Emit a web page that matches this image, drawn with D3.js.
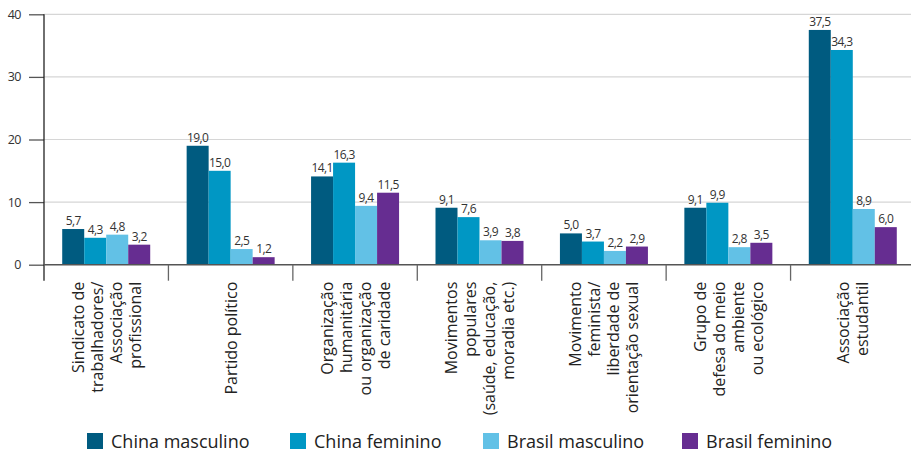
<!DOCTYPE html>
<html>
<head>
<meta charset="utf-8">
<script src="https://cdn.jsdelivr.net/npm/d3@7"></script>
<style>
  body { margin: 0; background: #fff; }
  svg { display: block; font-family: "Open Sans", "Noto Sans", sans-serif; }
</style>
</head>
<body>
<svg id="chart" width="911" height="452"></svg>
<script>
// categories (lines of each rotated label)
var categories = [
  ["Sindicato de", "trabalhadores/", "Associação", "profissional"],
  ["Partido político"],
  ["Organização", "humanitária", "ou organização", "de caridade"],
  ["Movimentos", "populares", "(saúde, educação,", "moradia etc.)"],
  ["Movimento", "feminista/", "liberdade de", "orientação sexual"],
  ["Grupo de", "defesa do meio", "ambiente", "ou ecológico"],
  ["Associação", "estudantil"]
];
var seriesNames = ["China masculino", "China feminino", "Brasil masculino", "Brasil feminino"];
var chinaMasc = [5.7, 19.0, 14.1, 9.1, 5.0, 9.1, 37.5];
var chinaFem = [4.3, 15.0, 16.3, 7.6, 3.7, 9.9, 34.3];
var brasilMasc = [4.8, 2.5, 9.4, 3.9, 2.2, 2.8, 8.9];
var brasilFem = [3.2, 1.2, 11.5, 3.8, 2.9, 3.5, 6.0];
var yTicks = [0, 10, 20, 30, 40];
var colors = ["#005b80", "#0097c4", "#62c1e6", "#662d91"];

var allSeries = [chinaMasc, chinaFem, brasilMasc, brasilFem];

var svg = d3.select("#chart");
var plotL = 44, plotR = 915, plotT = 14.3, plotB = 264.7;

var x0 = d3.scaleBand().domain(d3.range(categories.length)).range([plotL, plotR]);
var groupW = 88;
var x1 = d3.scaleBand().domain(d3.range(seriesNames.length)).range([0, groupW]);
var y = d3.scaleLinear().domain([0, 40]).range([plotB, plotT]);

// gridlines
svg.append("g").selectAll("line").data(yTicks.filter(function(d){ return d > 0; }))
  .enter().append("line")
  .attr("x1", plotL).attr("x2", 911)
  .attr("y1", function(d){ return y(d); }).attr("y2", function(d){ return y(d); })
  .attr("stroke", "#d6d6d6").attr("stroke-width", 1.2);

// y axis
var yAxis = d3.axisLeft(y).tickValues(yTicks).tickSize(15).tickPadding(8);
var gy = svg.append("g").attr("transform", "translate(" + plotL + ",0)").call(yAxis);
gy.select(".domain").remove();
gy.selectAll(".tick line").attr("stroke", "#555").attr("stroke-width", 1.3);
gy.selectAll(".tick text").attr("font-size", 12.5).attr("fill", "#333")
  .attr("font-family", "'Open Sans', sans-serif").attr("letter-spacing", "-0.5");
svg.append("line").attr("x1", plotL).attr("x2", plotL).attr("y1", plotT).attr("y2", plotB + 16)
  .attr("stroke", "#222").attr("stroke-width", 1.3);

// bars
var groups = svg.append("g").selectAll("g").data(categories).enter().append("g")
  .attr("transform", function(d, i){ return "translate(" + (x0(i) + (x0.bandwidth() - groupW) / 2) + ",0)"; });

var fmt = function(v){ return d3.format(".1f")(v).replace(".", ","); };

groups.each(function(c, i) {
  var g = d3.select(this);
  allSeries.forEach(function(s, k) {
    g.append("rect")
      .attr("x", x1(k)).attr("width", x1.bandwidth())
      .attr("y", y(s[i])).attr("height", plotB - y(s[i]))
      .attr("fill", colors[k]);
    g.append("text")
      .attr("x", x1(k) + x1.bandwidth() / 2)
      .attr("y", y(s[i]) - 4)
      .attr("text-anchor", "middle")
      .attr("font-size", 12).attr("letter-spacing", "-0.6")
      .attr("fill", "#333")
      .text(fmt(s[i]));
  });
});

// x axis line and separators
svg.append("line").attr("x1", plotL).attr("x2", 911).attr("y1", plotB).attr("y2", plotB)
  .attr("stroke", "#555").attr("stroke-width", 1.5);
svg.append("g").selectAll("line").data(d3.range(1, categories.length + 1)).enter().append("line")
  .attr("x1", function(d){ return x0(d - 1) + x0.bandwidth(); })
  .attr("x2", function(d){ return x0(d - 1) + x0.bandwidth(); })
  .attr("y1", plotB).attr("y2", plotB + 16)
  .attr("stroke", "#666").attr("stroke-width", 1.3);

// category labels, rotated
var lineH = 19;
categories.forEach(function(lines, i) {
  var cx = x0(i) + x0.bandwidth() / 2;
  var n = lines.length;
  var t = svg.append("text")
    .attr("transform", "translate(" + cx + "," + (plotB + 17) + ") rotate(-90)")
    .attr("text-anchor", "end")
    .attr("font-size", 16).attr("fill", "#222");
  lines.forEach(function(l, j) {
    t.append("tspan").attr("x", 0)
      .attr("y", (j - (n - 1) / 2) * lineH + 6)
      .text(l);
  });
});

// legend
var legX = [87, 290, 483, 682];
var leg = svg.append("g").selectAll("g").data(seriesNames).enter().append("g")
  .attr("transform", function(d, i){ return "translate(" + legX[i] + ",433)"; });
leg.append("rect").attr("width", 16).attr("height", 16).attr("fill", function(d, i){ return colors[i]; });
leg.append("text").attr("x", 24).attr("y", 15).attr("font-size", 18).attr("fill", "#222")
  .text(function(d){ return d; });
</script>
</body>
</html>
